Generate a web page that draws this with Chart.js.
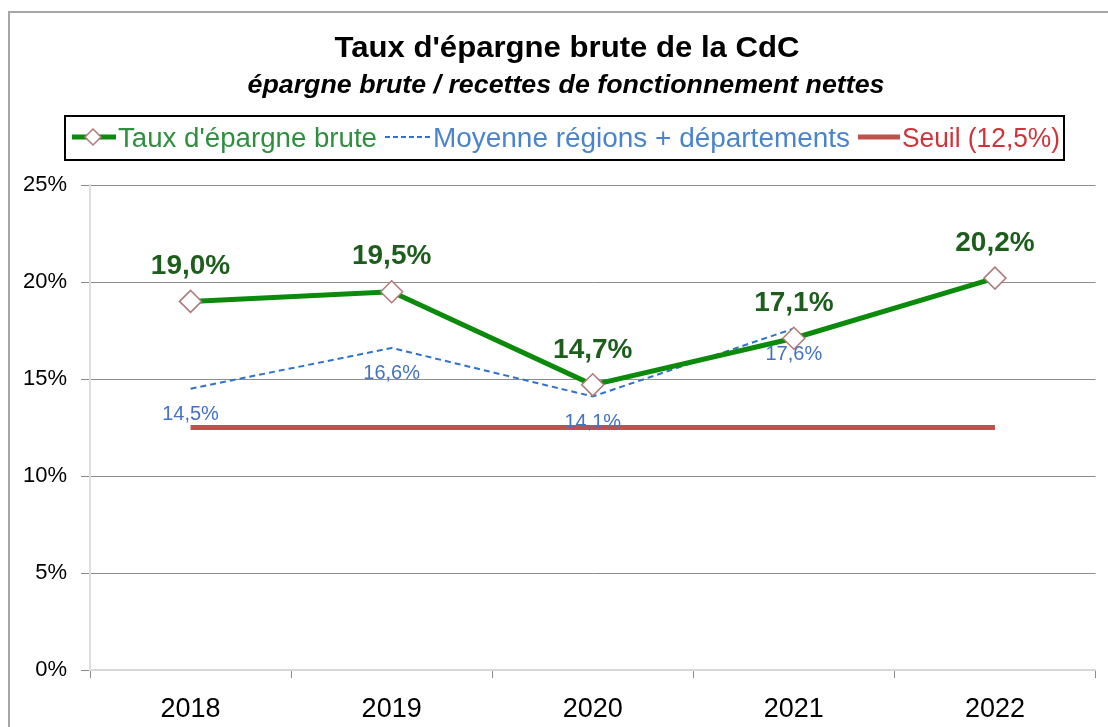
<!DOCTYPE html>
<html lang="fr">
<head>
<meta charset="utf-8">
<title>Taux d'épargne brute de la CdC</title>
<script src="https://cdn.jsdelivr.net/npm/chart.js@4/dist/chart.umd.min.js"></script>
<style>
  html, body { margin: 0; padding: 0; background: #fff; }
  #wrap { width: 1108px; height: 727px; position: relative; }
</style>
</head>
<body>
<div id="wrap"><canvas id="c" width="1108" height="727"></canvas></div>
<script>
// Années et séries (en %)
const years = ['2018', '2019', '2020', '2021', '2022'];
const tauxEpargne = [19.0, 19.5, 14.7, 17.1, 20.2];
const moyenneRegDep = [14.5, 16.6, 14.1, 17.6, null];
const seuil = [12.5, 12.5, 12.5, 12.5, 12.5];
const yTicks = [0, 5, 10, 15, 20, 25];

const titleText = "Taux d'épargne brute de la CdC";
const subtitleText = "épargne brute / recettes de fonctionnement nettes";
const legendLabels = ["Taux d'épargne brute", "Moyenne régions + départements", "Seuil (12,5%)"];

const FONT = "'Liberation Sans', 'DejaVu Sans', sans-serif";
const GREEN = '#0b8a0b';
const BLUE = '#2f73cc';
const RED = '#c0504d';

const fmt = v => v.toFixed(1).replace('.', ',') + '%';

// Texte étiré horizontalement pour occuper une largeur donnée
function fitText(ctx, text, x, y, font, width, align) {
  ctx.save();
  ctx.font = font;
  const w = ctx.measureText(text).width;
  ctx.translate(x, y);
  ctx.scale(width / w, 1);
  ctx.textAlign = align;
  ctx.textBaseline = 'alphabetic';
  ctx.fillText(text, 0, 0);
  ctx.restore();
}

// Cadre, titres et légende dessinés autour de la zone du graphique
const decorPlugin = {
  id: 'decor',
  beforeDraw(chart) {
    const ctx = chart.ctx;
    ctx.save();
    ctx.fillStyle = '#fff';
    ctx.fillRect(0, 0, chart.width, chart.height);
    ctx.strokeStyle = '#a6a6a6';
    ctx.lineWidth = 2;
    ctx.strokeRect(9, 12, chart.width + 20, chart.height + 20);
    ctx.restore();
  },
  afterDraw(chart) {
    const ctx = chart.ctx;
    ctx.save();
    ctx.fillStyle = '#000';
    fitText(ctx, titleText, 567, 57, `bold 30px ${FONT}`, 465, 'center');
    fitText(ctx, subtitleText, 566, 93, `italic bold 25px ${FONT}`, 637, 'center');

    // boîte de légende
    ctx.strokeStyle = '#000';
    ctx.lineWidth = 2;
    ctx.strokeRect(65, 116, 999, 44);
    const ly = 137;
    const lb = 147;

    // Taux d'épargne brute
    ctx.strokeStyle = GREEN; ctx.lineWidth = 5; ctx.lineCap = 'butt';
    ctx.beginPath(); ctx.moveTo(72, ly); ctx.lineTo(116, ly); ctx.stroke();
    ctx.fillStyle = '#fff'; ctx.strokeStyle = '#b07878'; ctx.lineWidth = 1.5;
    ctx.beginPath(); ctx.moveTo(93, ly - 8); ctx.lineTo(101, ly); ctx.lineTo(93, ly + 8); ctx.lineTo(85, ly); ctx.closePath();
    ctx.fill(); ctx.stroke();
    ctx.fillStyle = '#2f8f3f';
    fitText(ctx, legendLabels[0], 118, lb, `27px ${FONT}`, 259, 'left');

    // Moyenne régions + départements
    ctx.strokeStyle = BLUE; ctx.lineWidth = 2; ctx.setLineDash([5, 3]);
    ctx.beginPath(); ctx.moveTo(385, ly); ctx.lineTo(430, ly); ctx.stroke();
    ctx.setLineDash([]);
    ctx.fillStyle = '#4a84cc';
    fitText(ctx, legendLabels[1], 433, lb, `27px ${FONT}`, 417, 'left');

    // Seuil
    ctx.strokeStyle = RED; ctx.lineWidth = 5;
    ctx.beginPath(); ctx.moveTo(858, ly); ctx.lineTo(900, ly); ctx.stroke();
    ctx.fillStyle = '#d0343a';
    fitText(ctx, legendLabels[2], 902, lb, `27px ${FONT}`, 158, 'left');
    ctx.restore();
  }
};

// Étiquettes de valeurs
const labelPlugin = {
  id: 'valueLabels',
  afterDatasetsDraw(chart) {
    const ctx = chart.ctx;
    const x = chart.scales.x, y = chart.scales.y;
    ctx.save();
    ctx.textAlign = 'center';
    ctx.textBaseline = 'middle';
    ctx.font = `20px ${FONT}`;
    ctx.fillStyle = '#4472c4';
    moyenneRegDep.forEach((v, i) => {
      if (v === null) return;
      ctx.fillText(fmt(v), x.getPixelForValue(i), y.getPixelForValue(v) + 26);
    });
    ctx.font = `bold 28px ${FONT}`;
    ctx.fillStyle = '#1d5e1d';
    tauxEpargne.forEach((v, i) => {
      ctx.fillText(fmt(v), x.getPixelForValue(i), y.getPixelForValue(v) - 35);
    });
    ctx.restore();
  }
};

new Chart(document.getElementById('c'), {
  type: 'line',
  data: {
    labels: years,
    datasets: [
      {
        label: legendLabels[0],
        data: tauxEpargne,
        borderColor: GREEN,
        borderWidth: 5,
        pointStyle: 'rectRot',
        pointRadius: 11,
        pointHoverRadius: 11,
        pointBackgroundColor: '#fff',
        pointBorderColor: '#b07878',
        pointBorderWidth: 1.5,
        tension: 0,
        order: 1
      },
      {
        label: legendLabels[1],
        data: moyenneRegDep,
        borderColor: BLUE,
        borderWidth: 2,
        borderDash: [6, 4],
        pointRadius: 0,
        tension: 0,
        order: 2
      },
      {
        label: legendLabels[2],
        data: seuil,
        borderColor: RED,
        borderWidth: 5,
        borderCapStyle: 'butt',
        pointRadius: 0,
        tension: 0,
        order: 3
      }
    ]
  },
  options: {
    responsive: false,
    animation: false,
    layout: { padding: { top: 185, right: 5, left: 0, bottom: 0 } },
    plugins: {
      legend: { display: false },
      title: { display: false },
      tooltip: { enabled: false }
    },
    scales: {
      x: {
        offset: true,
        grid: {
          offset: true,
          drawOnChartArea: false,
          color: '#8c8c8c',
          tickLength: 8
        },
        border: { color: '#d9d9d9', width: 2 },
        ticks: { color: '#000', font: { family: FONT, size: 27 }, padding: 15 },
        afterFit(s) { s.height = 57; }
      },
      y: {
        min: 0,
        max: 25,
        afterBuildTicks(s) { s.ticks = yTicks.map(v => ({ value: v })); },
        grid: { color: '#8c8c8c', tickLength: 9 },
        border: { color: '#dedede', width: 2 },
        ticks: {
          color: '#000',
          font: { family: FONT, size: 22 },
          padding: 14,
          callback: v => v + '%'
        },
        afterFit(s) { s.width = 90; }
      }
    }
  },
  plugins: [decorPlugin, labelPlugin]
});
</script>
</body>
</html>
